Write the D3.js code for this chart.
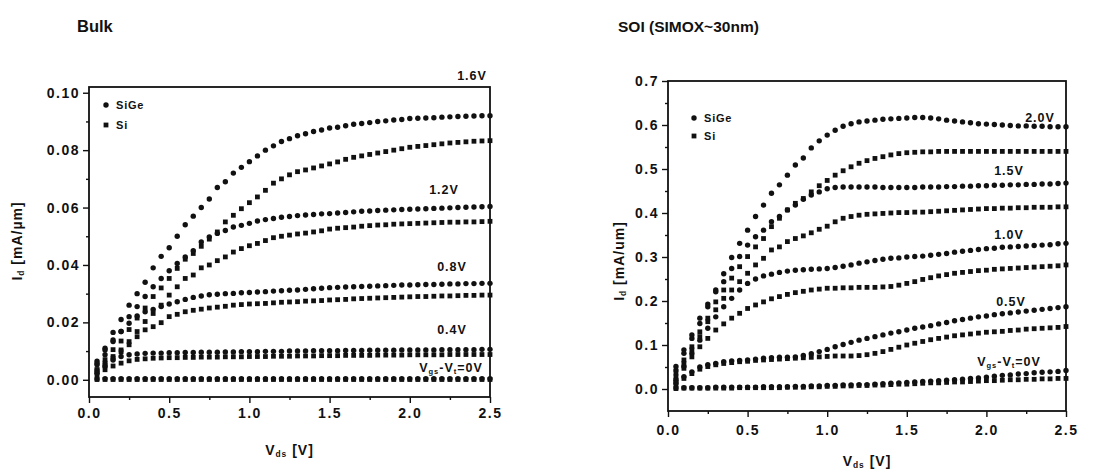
<!DOCTYPE html>
<html>
<head>
<meta charset="utf-8">
<script src="https://cdn.jsdelivr.net/npm/d3@7"></script>
<style>
  body { margin: 0; background: #fff; }
  svg { display: block; font-family: "Liberation Sans", Arial, sans-serif; }
  .tick text { font-size: 14px; font-weight: bold; letter-spacing: 1.5px; fill: #111; }
  .tick line { stroke: #111; stroke-width: 1.4; }
</style>
</head>
<body>
<svg id="chart" width="1107" height="476"></svg>
<script>
// drain voltage sweep (V)
var vds = [0.05,0.10,0.15,0.20,0.25,0.30,0.35,0.40,0.45,0.50,
           0.55,0.60,0.65,0.70,0.75,0.80,0.85,0.90,0.95,1.00,
           1.05,1.10,1.15,1.20,1.25,1.30,1.35,1.40,1.45,1.50,
           1.55,1.60,1.65,1.70,1.75,1.80,1.85,1.90,1.95,2.00,
           2.05,2.10,2.15,2.20,2.25,2.30,2.35,2.40,2.45,2.50];

// Bulk, Id in mA/um
var bulkSiGe16 = [0.0065,0.011,0.0165,0.021,0.026,0.030,0.034,0.039,0.043,0.046,
  0.050,0.054,0.057,0.060,0.063,0.067,0.069,0.072,0.074,0.076,
  0.078,0.080,0.0815,0.083,0.084,0.085,0.0857,0.0865,0.087,0.0877,
  0.088,0.0885,0.089,0.0893,0.0896,0.090,0.0902,0.0905,0.0907,0.091,
  0.0911,0.0912,0.0913,0.0915,0.0916,0.0917,0.0918,0.0919,0.092,0.092];
var bulkSi16 = [0.0035,0.007,0.0105,0.0135,0.0175,0.0215,0.025,0.029,0.032,0.0353,
  0.0388,0.042,0.044,0.0465,0.049,0.0515,0.055,0.0573,0.0596,0.0617,
  0.0637,0.066,0.0685,0.070,0.0714,0.0725,0.0731,0.0738,0.0745,0.0752,
  0.0759,0.0768,0.0775,0.078,0.0785,0.079,0.0795,0.080,0.0805,0.081,
  0.0813,0.0816,0.0819,0.0822,0.0825,0.0827,0.0829,0.0831,0.0832,0.0833];
var bulkSiGe12 = [0.0052,0.0087,0.0133,0.0168,0.022,0.0255,0.029,0.0324,0.0353,0.038,
  0.0405,0.0428,0.045,0.048,0.0498,0.051,0.052,0.0532,0.0538,0.0545,
  0.0553,0.0558,0.0562,0.0566,0.0569,0.0572,0.0574,0.0576,0.0578,0.0579,
  0.0581,0.0583,0.0585,0.0587,0.0588,0.059,0.0591,0.0592,0.0593,0.0594,
  0.0595,0.0596,0.0597,0.0598,0.0599,0.060,0.0601,0.0602,0.0603,0.0604];
var bulkSi12 = [0.0035,0.0058,0.0081,0.0104,0.0133,0.0168,0.0203,0.0231,0.026,0.0295,
  0.0324,0.0353,0.0365,0.039,0.040,0.0415,0.0428,0.0445,0.0457,0.0467,
  0.0475,0.0485,0.0495,0.050,0.0504,0.0508,0.0511,0.0515,0.0519,0.0525,
  0.0528,0.053,0.0532,0.0535,0.0537,0.0539,0.054,0.0542,0.0543,0.0544,
  0.0545,0.0546,0.0547,0.0548,0.0549,0.0549,0.055,0.055,0.0551,0.0552];
var bulkSiGe08 = [0.0058,0.0104,0.0139,0.0168,0.0197,0.0222,0.0237,0.0245,0.0255,0.0264,
  0.0272,0.028,0.0287,0.0292,0.0296,0.0298,0.030,0.0301,0.0303,0.0304,
  0.0306,0.0307,0.0309,0.031,0.0312,0.0313,0.0315,0.0317,0.0319,0.0321,
  0.0322,0.0323,0.0324,0.0325,0.0326,0.0327,0.0328,0.0329,0.033,0.033,
  0.0331,0.0332,0.0332,0.0333,0.0334,0.0334,0.0335,0.0335,0.0336,0.0336];
var bulkSi08 = [0.0029,0.0052,0.0075,0.0098,0.0122,0.015,0.0174,0.0185,0.0199,0.022,
  0.0228,0.0237,0.0242,0.0246,0.025,0.0253,0.0256,0.026,0.0262,0.0264,
  0.0265,0.0266,0.0268,0.027,0.0271,0.0272,0.0274,0.0275,0.0276,0.0278,
  0.0279,0.028,0.0282,0.0283,0.0284,0.0285,0.0286,0.0287,0.0288,0.0289,
  0.029,0.029,0.0291,0.0292,0.0292,0.0293,0.0294,0.0294,0.0295,0.0295];
var bulkSiGe04 = [0.0023,0.0046,0.0069,0.0081,0.0087,0.009,0.0092,0.0093,0.0093,0.0094,
  0.0094,0.0095,0.0095,0.0096,0.0096,0.0096,0.0097,0.0097,0.0098,0.0098,
  0.0098,0.0099,0.0099,0.0099,0.010,0.010,0.010,0.0101,0.0101,0.0101,
  0.0101,0.0102,0.0102,0.0102,0.0103,0.0103,0.0103,0.0103,0.0104,0.0104,
  0.0104,0.0104,0.0104,0.0105,0.0105,0.0105,0.0105,0.0105,0.0106,0.0106];
var bulkSi04 = [0.0017,0.0035,0.0048,0.0058,0.0066,0.0071,0.0073,0.0075,0.0076,0.0077,
  0.0077,0.0078,0.0078,0.0079,0.0079,0.0079,0.008,0.008,0.008,0.0081,
  0.0081,0.0081,0.0082,0.0082,0.0082,0.0083,0.0083,0.0083,0.0084,0.0084,
  0.0084,0.0085,0.0085,0.0085,0.0085,0.0086,0.0086,0.0086,0.0086,0.0087,
  0.0087,0.0087,0.0087,0.0087,0.0088,0.0088,0.0088,0.0088,0.0088,0.0088];
var bulkSiGe0 = [0.0003,0.0004,0.0004,0.0004,0.0004,0.0004,0.0004,0.0004,0.0004,0.0004,
  0.0004,0.0004,0.0004,0.0004,0.0004,0.0004,0.0004,0.0004,0.0004,0.0004,
  0.0004,0.0004,0.0004,0.0004,0.0004,0.0004,0.0004,0.0004,0.0004,0.0004,
  0.0004,0.0004,0.0004,0.0004,0.0004,0.0004,0.0004,0.0004,0.0004,0.0004,
  0.0004,0.0004,0.0004,0.0004,0.0004,0.0004,0.0004,0.0004,0.0004,0.0004];
var bulkSi0 = [0.0001,0.0001,0.0001,0.0001,0.0001,0.0001,0.0001,0.0001,0.0001,0.0001,
  0.0001,0.0001,0.0001,0.0001,0.0001,0.0001,0.0001,0.0001,0.0001,0.0001,
  0.0001,0.0001,0.0001,0.0001,0.0001,0.0001,0.0001,0.0001,0.0001,0.0001,
  0.0001,0.0001,0.0001,0.0001,0.0001,0.0001,0.0001,0.0001,0.0001,0.0001,
  0.0001,0.0001,0.0001,0.0001,0.0001,0.0001,0.0001,0.0001,0.0001,0.0001];

// SOI, Id in mA/um
var soiSiGe20 = [0.051,0.089,0.123,0.161,0.193,0.225,0.262,0.299,0.331,0.361,
  0.392,0.418,0.445,0.464,0.486,0.509,0.525,0.548,0.564,0.577,
  0.588,0.597,0.603,0.607,0.609,0.611,0.613,0.614,0.615,0.616,
  0.617,0.617,0.616,0.614,0.611,0.609,0.607,0.605,0.603,0.602,
  0.601,0.600,0.599,0.598,0.598,0.597,0.597,0.596,0.596,0.596];
var soiSi20 = [0.036,0.066,0.096,0.130,0.161,0.198,0.225,0.252,0.278,0.301,
  0.323,0.342,0.369,0.388,0.407,0.422,0.433,0.448,0.462,0.474,
  0.486,0.496,0.505,0.513,0.519,0.524,0.528,0.532,0.535,0.537,
  0.538,0.539,0.539,0.540,0.540,0.540,0.540,0.540,0.540,0.540,
  0.540,0.540,0.540,0.540,0.540,0.540,0.540,0.540,0.540,0.540];
var soiSiGe15 = [0.043,0.081,0.115,0.149,0.187,0.221,0.244,0.274,0.301,0.327,
  0.346,0.361,0.380,0.392,0.407,0.418,0.431,0.441,0.448,0.455,
  0.458,0.459,0.459,0.459,0.459,0.459,0.458,0.458,0.458,0.458,
  0.458,0.459,0.459,0.459,0.460,0.460,0.461,0.461,0.462,0.462,
  0.463,0.463,0.464,0.464,0.465,0.465,0.466,0.466,0.467,0.468];
var soiSi15 = [0.028,0.058,0.089,0.119,0.153,0.180,0.206,0.225,0.244,0.263,
  0.282,0.297,0.316,0.323,0.335,0.342,0.348,0.355,0.363,0.370,
  0.380,0.388,0.392,0.395,0.397,0.398,0.399,0.400,0.401,0.401,
  0.402,0.402,0.403,0.404,0.405,0.406,0.407,0.408,0.409,0.410,
  0.410,0.411,0.411,0.412,0.412,0.413,0.413,0.413,0.414,0.414];
var soiSiGe10 = [0.020,0.051,0.081,0.111,0.138,0.164,0.187,0.206,0.225,0.240,
  0.250,0.257,0.261,0.265,0.268,0.270,0.271,0.272,0.273,0.274,
  0.276,0.279,0.282,0.286,0.289,0.292,0.295,0.297,0.298,0.300,
  0.301,0.302,0.304,0.306,0.308,0.311,0.313,0.315,0.317,0.319,
  0.320,0.322,0.323,0.324,0.325,0.326,0.327,0.328,0.330,0.331];
var soiSi10 = [0.020,0.047,0.073,0.096,0.115,0.134,0.148,0.161,0.172,0.183,
  0.191,0.198,0.205,0.210,0.215,0.219,0.222,0.225,0.227,0.229,
  0.229,0.230,0.230,0.231,0.231,0.231,0.232,0.233,0.236,0.240,
  0.244,0.249,0.253,0.257,0.260,0.263,0.265,0.267,0.269,0.270,
  0.272,0.273,0.274,0.275,0.276,0.277,0.278,0.279,0.280,0.282];
var soiSiGe05 = [0.013,0.028,0.039,0.050,0.055,0.058,0.062,0.064,0.065,0.066,
  0.068,0.070,0.071,0.072,0.072,0.073,0.076,0.080,0.085,0.090,
  0.096,0.101,0.106,0.111,0.115,0.119,0.123,0.127,0.130,0.134,
  0.138,0.141,0.144,0.148,0.151,0.155,0.158,0.161,0.164,0.166,
  0.169,0.171,0.173,0.175,0.177,0.179,0.181,0.183,0.185,0.187];
var soiSi05 = [0.010,0.024,0.035,0.045,0.051,0.055,0.058,0.060,0.062,0.063,
  0.065,0.066,0.067,0.068,0.069,0.070,0.071,0.072,0.073,0.074,
  0.075,0.075,0.075,0.076,0.078,0.081,0.085,0.090,0.095,0.100,
  0.104,0.108,0.112,0.115,0.118,0.121,0.123,0.125,0.127,0.129,
  0.130,0.131,0.133,0.134,0.136,0.137,0.138,0.139,0.140,0.142];
var soiSiGe0 = [0.002,0.003,0.003,0.003,0.003,0.004,0.004,0.004,0.004,0.004,
  0.004,0.005,0.005,0.005,0.005,0.006,0.006,0.007,0.007,0.008,
  0.008,0.009,0.009,0.010,0.010,0.011,0.012,0.013,0.014,0.015,
  0.016,0.017,0.018,0.019,0.020,0.021,0.022,0.024,0.025,0.027,
  0.029,0.031,0.032,0.034,0.035,0.037,0.038,0.039,0.040,0.042];
var soiSi0 = [0.001,0.002,0.002,0.002,0.002,0.002,0.002,0.002,0.003,0.003,
  0.003,0.003,0.003,0.003,0.004,0.004,0.004,0.005,0.005,0.006,
  0.006,0.007,0.007,0.008,0.008,0.009,0.009,0.010,0.011,0.011,
  0.012,0.013,0.014,0.014,0.015,0.016,0.016,0.017,0.018,0.019,
  0.019,0.020,0.021,0.021,0.022,0.022,0.023,0.023,0.024,0.024];

var xTicks = [0, 0.5, 1.0, 1.5, 2.0, 2.5];
var xMinor = [0.25, 0.75, 1.25, 1.75, 2.25];
var bulkYTicks = [0, 0.02, 0.04, 0.06, 0.08, 0.10];
var bulkYMinor = [0.01, 0.03, 0.05, 0.07, 0.09];
var soiYTicks = [0, 0.1, 0.2, 0.3, 0.4, 0.5, 0.6, 0.7];
var soiYMinor = [0.05, 0.15, 0.25, 0.35, 0.45, 0.55, 0.65];
var legendNames = ["SiGe", "Si"];

var svg = d3.select("#chart");
svg.append("rect").attr("width", 1107).attr("height", 476).attr("fill", "#fff");

// text with subscripts: parts = [[text, isSub], ...]
function richText(sel, parts) {
    parts.forEach(function(p) {
        sel.append("tspan")
            .attr("baseline-shift", p[1] ? "-30%" : null)
            .attr("font-size", p[1] ? "0.6em" : null)
            .text(p[0]);
    });
    return sel;
}

function drawPanel(p) {
    var x = d3.scaleLinear().domain([0, 2.5]).range([p.left, p.right]);
    var y = d3.scaleLinear().domain(p.yDomain).range([p.bottom, p.top]);
    var g = svg.append("g");

    // minor ticks
    g.append("g").attr("transform", "translate(0," + p.bottom + ")")
        .call(d3.axisBottom(x).tickValues(xMinor).tickSize(3).tickSizeOuter(0).tickFormat(""));
    g.append("g").attr("transform", "translate(" + p.left + ",0)")
        .call(d3.axisLeft(y).tickValues(p.yMinor).tickSize(3).tickSizeOuter(0).tickFormat(""));

    // major ticks
    g.append("g").attr("transform", "translate(0," + p.bottom + ")")
        .call(d3.axisBottom(x).tickValues(xTicks).tickSize(6).tickSizeOuter(0)
            .tickPadding(p.xPad).tickFormat(d3.format(".1f")));
    g.append("g").attr("transform", "translate(" + p.left + ",0)")
        .call(d3.axisLeft(y).tickValues(p.yTicks).tickSize(6).tickSizeOuter(0)
            .tickPadding(3).tickFormat(d3.format(p.yFormat)));
    g.selectAll(".domain").remove();

    g.append("rect")
        .attr("x", p.left).attr("y", p.top)
        .attr("width", p.right - p.left).attr("height", p.bottom - p.top)
        .attr("fill", "none").attr("stroke", "#111").attr("stroke-width", 1.8);

    // data points
    p.series.forEach(function(s) {
        var pts = vds.map(function(v, i) { return [v, s.values[i]]; });
        if (s.kind === "SiGe") {
            g.append("g").selectAll("circle").data(pts).enter().append("circle")
                .attr("cx", function(d) { return x(d[0]); })
                .attr("cy", function(d) { return y(d[1]); })
                .attr("r", 2.7)
                .attr("fill", "#111");
        } else {
            g.append("g").selectAll("rect").data(pts).enter().append("rect")
                .attr("x", function(d) { return x(d[0]) - 2.4; })
                .attr("y", function(d) { return y(d[1]) - 2.4; })
                .attr("width", 4.8).attr("height", 4.8)
                .attr("fill", "#111");
        }
    });

    // legend
    legendNames.forEach(function(name, i) {
        var ly = p.legendY + i * p.legendGap;
        if (name === "SiGe") {
            g.append("circle").attr("cx", p.legendX).attr("cy", ly).attr("r", 2.7).attr("fill", "#111");
        } else {
            g.append("rect").attr("x", p.legendX - 2.4).attr("y", ly - 2.4)
                .attr("width", 4.8).attr("height", 4.8).attr("fill", "#111");
        }
        g.append("text").attr("x", p.legendX + 10).attr("y", ly + 4)
            .attr("font-size", 11).attr("font-weight", "bold").attr("letter-spacing", 0.8)
            .attr("fill", "#111").text(name);
    });

    // curve labels
    p.labels.forEach(function(l) {
        var t = g.append("text").attr("x", l.x).attr("y", l.y)
            .attr("font-size", 12.5).attr("font-weight", "bold").attr("letter-spacing", 1)
            .attr("text-anchor", "middle").attr("fill", "#111");
        if (l.zero) richText(t, [["V", false], ["gs", true], ["-V", false], ["t", true], ["=0V", false]]);
        else t.text(l.text);
    });

    // axis titles
    richText(g.append("text")
        .attr("x", (p.left + p.right) / 2).attr("y", p.xTitleY)
        .attr("text-anchor", "middle").attr("font-size", 14).attr("font-weight", "bold")
        .attr("letter-spacing", 1).attr("fill", "#111"),
        [["V", false], ["ds", true], [" [V]", false]]);

    richText(g.append("text")
        .attr("transform", "translate(" + p.yTitleX + "," + p.yTitleY + ") rotate(-90)")
        .attr("text-anchor", "middle").attr("font-size", 14).attr("font-weight", "bold")
        .attr("letter-spacing", 1).attr("fill", "#111"),
        [["I", false], ["d", true], [" " + p.unit, false]]);

    g.append("text").attr("x", p.titleX).attr("y", 32)
        .attr("font-size", p.titleSize).attr("font-weight", "bold")
        .attr("fill", "#111").text(p.title);
}

drawPanel({
    title: "Bulk", titleX: 77, titleSize: 16.5,
    left: 89, right: 490, top: 87, bottom: 397,
    yDomain: [-0.006, 0.102], yTicks: bulkYTicks, yMinor: bulkYMinor, yFormat: ".2f",
    xPad: 5, xTitleY: 455, yTitleX: 22, yTitleY: 241, unit: "[mA/\u00b5m]",
    legendX: 106, legendY: 105, legendGap: 20,
    series: [
        {kind: "SiGe", values: bulkSiGe16}, {kind: "Si", values: bulkSi16},
        {kind: "SiGe", values: bulkSiGe12}, {kind: "Si", values: bulkSi12},
        {kind: "SiGe", values: bulkSiGe08}, {kind: "Si", values: bulkSi08},
        {kind: "SiGe", values: bulkSiGe04}, {kind: "Si", values: bulkSi04},
        {kind: "SiGe", values: bulkSiGe0}, {kind: "Si", values: bulkSi0}
    ],
    labels: [
        {text: "1.6V", x: 472, y: 80},
        {text: "1.2V", x: 444, y: 194},
        {text: "0.8V", x: 452, y: 271},
        {text: "0.4V", x: 452, y: 334},
        {zero: true, x: 451, y: 372}
    ]
});

drawPanel({
    title: "SOI (SIMOX~30nm)", titleX: 618, titleSize: 15.5,
    left: 668, right: 1066, top: 81, bottom: 411,
    yDomain: [-0.05, 0.7], yTicks: soiYTicks, yMinor: soiYMinor, yFormat: ".1f",
    xPad: 8, xTitleY: 466, yTitleX: 624, yTitleY: 261, unit: "[mA/um]",
    legendX: 694, legendY: 118, legendGap: 18,
    series: [
        {kind: "SiGe", values: soiSiGe20}, {kind: "Si", values: soiSi20},
        {kind: "SiGe", values: soiSiGe15}, {kind: "Si", values: soiSi15},
        {kind: "SiGe", values: soiSiGe10}, {kind: "Si", values: soiSi10},
        {kind: "SiGe", values: soiSiGe05}, {kind: "Si", values: soiSi05},
        {kind: "SiGe", values: soiSiGe0}, {kind: "Si", values: soiSi0}
    ],
    labels: [
        {text: "2.0V", x: 1040, y: 122},
        {text: "1.5V", x: 1009, y: 175},
        {text: "1.0V", x: 1009, y: 239},
        {text: "0.5V", x: 1011, y: 306},
        {zero: true, x: 1009, y: 366}
    ]
});
</script>
</body>
</html>
